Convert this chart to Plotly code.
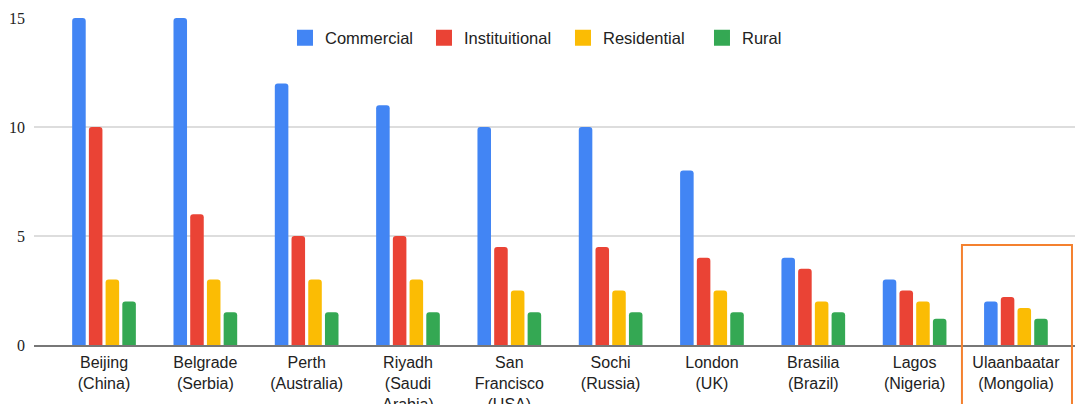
import plotly.graph_objects as go

cities = ["Beijing<br>(China)", "Belgrade<br>(Serbia)", "Perth<br>(Australia)",
          "Riyadh<br>(Saudi<br>Arabia)", "San<br>Francisco<br>(USA)", "Sochi<br>(Russia)",
          "London<br>(UK)", "Brasilia<br>(Brazil)", "Lagos<br>(Nigeria)",
          "Ulaanbaatar<br>(Mongolia)"]
commercial = [15, 15, 12, 11, 10, 10, 8, 4, 3, 2]
institutional = [10, 6, 5, 5, 4.5, 4.5, 4, 3.5, 2.5, 2.2]
residential = [3, 3, 3, 3, 2.5, 2.5, 2.5, 2, 2, 1.7]
rural = [2, 1.5, 1.5, 1.5, 1.5, 1.5, 1.5, 1.5, 1.2, 1.2]

series = [
    ("Commercial", commercial, "#4285F4"),
    ("Instituitional", institutional, "#EA4335"),
    ("Residential", residential, "#FBBC04"),
    ("Rural", rural, "#34A853"),
]

fig = go.Figure()
for name, vals, color in series:
    fig.add_trace(go.Bar(x=cities, y=vals, name=name, showlegend=False,
                         marker=dict(color=color, cornerradius=3, line=dict(width=0))))
# legend entries with larger square swatches
for name, vals, color in series:
    fig.add_trace(go.Scatter(x=[None], y=[None], mode="markers", name=name,
                             marker=dict(symbol="square", size=16, color=color)))

fig.update_layout(
    width=1075, height=404,
    margin=dict(l=34, r=0, t=18, b=59),
    paper_bgcolor="white", plot_bgcolor="white",
    barmode="group", bargap=0.34, bargroupgap=0.19,
    font=dict(family="Liberation Sans, Arial, sans-serif", size=16, color="#222222"),
    legend=dict(orientation="h", x=0.2411, xanchor="left", y=0.939, yanchor="middle",
                font=dict(size=16.5, color="#222222"), bgcolor="rgba(0,0,0,0)",
                entrywidth=94, entrywidthmode="pixels"),
    showlegend=True,
)
fig.update_xaxes(range=[-0.691, 9.583], automargin=False, showgrid=False,
                 showline=True, linecolor="#777777", linewidth=1.5,
                 tickfont=dict(size=16, color="#222222"), ticks="", ticklabelstandoff=2)
fig.update_yaxes(range=[0, 15], tickvals=[0, 5, 10, 15], automargin=False,
                 showgrid=True, gridcolor="#dddddd", gridwidth=1.5, zeroline=False,
                 tickfont=dict(family="Liberation Serif, serif", size=16, color="#222222"),
                 ticks="", ticklabelstandoff=8)
fig.add_shape(type="rect", xref="paper", yref="paper",
              x0=0.8914, x1=0.9971, y0=-0.35, y1=0.3058,
              line=dict(color="#F4812F", width=2), fillcolor="rgba(0,0,0,0)")

fig.write_html("out.html")
